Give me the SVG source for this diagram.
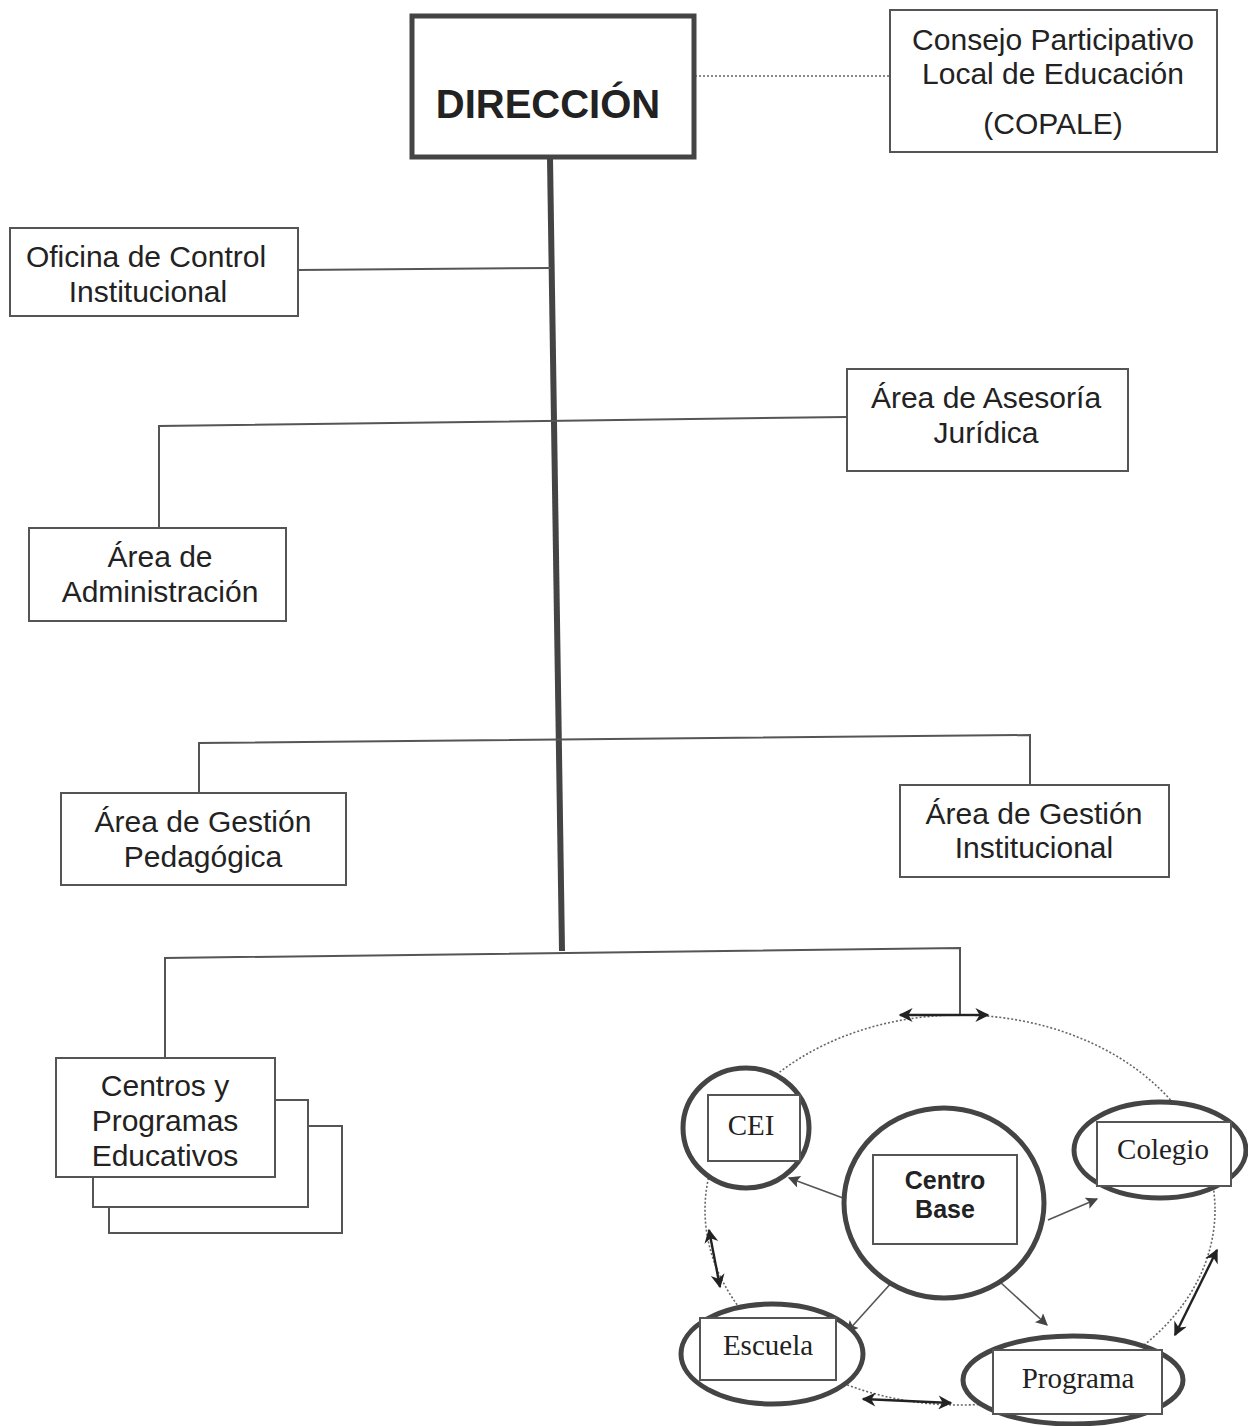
<svg xmlns="http://www.w3.org/2000/svg" width="1248" height="1426" viewBox="0 0 1248 1426">
<style>
  .box { fill: #fff; stroke: #555; stroke-width: 2; }
  .t { font-family: "Liberation Sans", Arial, sans-serif; font-size: 30px; fill: #222; text-anchor: middle; }
  .ts { font-family: "Liberation Serif", "Times New Roman", serif; font-size: 29px; fill: #222; text-anchor: middle; }
  .line { stroke: #555; stroke-width: 2; fill: none; }
  .trunk { stroke: #444; stroke-width: 6; fill: none; }
  .dot { stroke: #666; stroke-width: 1.6; fill: none; stroke-dasharray: 2 2; }
  .ring { fill: #fff; stroke: #444; stroke-width: 5; }
  .arr { stroke: #555; stroke-width: 1.6; fill: none; }
  .darr { stroke: #222; stroke-width: 2.4; fill: none; }
</style>
<defs>
  <marker id="ah" viewBox="0 0 10 10" refX="9" refY="5" markerWidth="15" markerHeight="12" markerUnits="userSpaceOnUse" orient="auto">
    <path d="M0,0 L10,5 L0,10 L2,5 z" fill="#444"/>
  </marker>
  <marker id="dh" viewBox="0 0 10 10" refX="9" refY="5" markerWidth="18" markerHeight="14" markerUnits="userSpaceOnUse" orient="auto-start-reverse">
    <path d="M0,0 L10,5 L0,10 L3,5 z" fill="#222"/>
  </marker>
</defs>
<rect width="1248" height="1426" fill="#fff"/>

<g id="connectors">
  <line class="trunk" x1="550" y1="158" x2="562" y2="951"/>
  <line class="dot" x1="683" y1="76" x2="889" y2="76"/>
  <line class="line" x1="298" y1="270" x2="551" y2="268"/>
  <polyline class="line" points="159,528 159,426 846,417"/>
  <polyline class="line" points="199,793 199,743 1030,735 1030,784"/>
  <polyline class="line" points="165,1058 165,958 960,948 960,1015"/>
</g>

<g id="network-ring">
  <ellipse class="dot" cx="960" cy="1210" rx="255" ry="195"/>
  <line class="darr" x1="960" y1="1015" x2="900" y2="1015" marker-end="url(#dh)"/>
  <line class="darr" x1="960" y1="1015" x2="988" y2="1015" marker-end="url(#dh)"/>
  <line class="darr" x1="709" y1="1230" x2="720" y2="1287" marker-start="url(#dh)" marker-end="url(#dh)"/>
  <line class="darr" x1="863" y1="1399" x2="951" y2="1403" marker-start="url(#dh)" marker-end="url(#dh)"/>
  <line class="darr" x1="1217" y1="1250" x2="1175" y2="1335" marker-start="url(#dh)" marker-end="url(#dh)"/>
</g>

<g id="direccion">
  <rect x="412" y="16" width="282" height="141" fill="#fff" stroke="#444" stroke-width="5"/>
  <text x="548" y="118" font-family="Liberation Sans, Arial, sans-serif" font-size="40" font-weight="bold" fill="#222" text-anchor="middle">DIRECCIÓN</text>
</g>

<g id="copale">
  <rect class="box" x="890" y="10" width="327" height="142"/>
  <text class="t" x="1053" y="50">Consejo Participativo</text>
  <text class="t" x="1053" y="84">Local de Educación</text>
  <text class="t" x="1053" y="134">(COPALE)</text>
</g>

<g id="oficina">
  <rect class="box" x="10" y="228" width="288" height="88"/>
  <text class="t" x="146" y="267">Oficina de Control</text>
  <text class="t" x="148" y="302">Institucional</text>
</g>

<g id="asesoria">
  <rect class="box" x="847" y="369" width="281" height="102"/>
  <text class="t" x="986" y="408">Área de Asesoría</text>
  <text class="t" x="986" y="443">Jurídica</text>
</g>

<g id="administracion">
  <rect class="box" x="29" y="528" width="257" height="93"/>
  <text class="t" x="160" y="567">Área de</text>
  <text class="t" x="160" y="602">Administración</text>
</g>

<g id="gestion-pedagogica">
  <rect class="box" x="61" y="793" width="285" height="92"/>
  <text class="t" x="203" y="832">Área de Gestión</text>
  <text class="t" x="203" y="867">Pedagógica</text>
</g>

<g id="gestion-institucional">
  <rect class="box" x="900" y="785" width="269" height="92"/>
  <text class="t" x="1034" y="824">Área de Gestión</text>
  <text class="t" x="1034" y="858">Institucional</text>
</g>

<g id="centros-programas">
  <rect class="box" x="109" y="1126" width="233" height="107"/>
  <rect class="box" x="93" y="1100" width="215" height="107"/>
  <rect class="box" x="56" y="1058" width="219" height="119"/>
  <text class="t" x="165" y="1096">Centros y</text>
  <text class="t" x="165" y="1131">Programas</text>
  <text class="t" x="165" y="1166">Educativos</text>
</g>

<g id="cb-arrows">
  <line class="arr" x1="843" y1="1198" x2="789" y2="1178" marker-end="url(#ah)"/>
  <line class="arr" x1="1048" y1="1220" x2="1097" y2="1199" marker-end="url(#ah)"/>
  <line class="arr" x1="893" y1="1281" x2="847" y2="1332" marker-end="url(#ah)"/>
  <line class="arr" x1="1000" y1="1282" x2="1047" y2="1325" marker-end="url(#ah)"/>
</g>

<g id="cei">
  <ellipse class="ring" cx="746" cy="1128" rx="63" ry="60"/>
  <rect class="box" x="708" y="1095" width="92" height="66"/>
  <text class="ts" x="751" y="1135">CEI</text>
</g>

<g id="colegio">
  <ellipse class="ring" cx="1160" cy="1150" rx="86" ry="48"/>
  <rect class="box" x="1097" y="1122" width="134" height="64"/>
  <text class="ts" x="1163" y="1159">Colegio</text>
</g>

<g id="centro-base">
  <ellipse class="ring" cx="944" cy="1203" rx="100" ry="95"/>
  <rect class="box" x="873" y="1155" width="144" height="89"/>
  <text x="945" y="1189" font-family="Liberation Sans, Arial, sans-serif" font-size="25" font-weight="bold" fill="#222" text-anchor="middle">Centro</text>
  <text x="945" y="1218" font-family="Liberation Sans, Arial, sans-serif" font-size="25" font-weight="bold" fill="#222" text-anchor="middle">Base</text>
</g>

<g id="escuela">
  <ellipse class="ring" cx="772" cy="1354" rx="91" ry="50"/>
  <rect class="box" x="700" y="1318" width="136" height="62"/>
  <text class="ts" x="768" y="1355">Escuela</text>
</g>

<g id="programa">
  <ellipse class="ring" cx="1073" cy="1380" rx="110" ry="44"/>
  <rect class="box" x="993" y="1350" width="169" height="64"/>
  <text class="ts" x="1078" y="1388">Programa</text>
</g>
</svg>
